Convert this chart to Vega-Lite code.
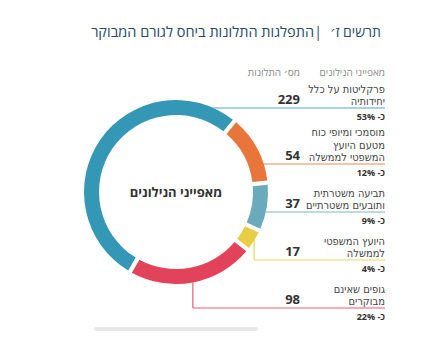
{
  "$schema": "https://vega.github.io/schema/vega-lite/v6.json",
  "width": 446,
  "height": 351,
  "autosize": {"type": "fit", "contains": "padding"},
  "padding": 0,
  "background": "white",
  "view": {"stroke": null},
  "config": {"font": "Open Sans, DejaVu Sans, sans-serif"},
  "data": {
    "values": [
      {"category": "פרקליטות על כלל יחידותיה", "lines": ["פרקליטות על כלל", "יחידותיה"], "count": 229, "pct": "כ- 53%", "rank": 0},
      {"category": "מוסמכי ומיופי כוח מטעם היועץ המשפטי לממשלה", "lines": ["מוסמכי ומיופי כוח", "מטעם היועץ", "המשפטי לממשלה"], "count": 54, "pct": "כ- 12%", "rank": 1},
      {"category": "תביעה משטרתית ותובעים משטרתיים", "lines": ["תביעה משטרתית", "ותובעים משטרתיים"], "count": 37, "pct": "כ- 9%", "rank": 2},
      {"category": "היועץ המשפטי לממשלה", "lines": ["היועץ המשפטי", "לממשלה"], "count": 17, "pct": "כ- 4%", "rank": 3},
      {"category": "גופים שאינם מבוקרים", "lines": ["גופים שאינם", "מבוקרים"], "count": 98, "pct": "כ- 22%", "rank": 4}
    ]
  },
  "transform": [
    {"joinaggregate": [{"op": "sum", "field": "count", "as": "total"}]},
    {"calculate": "length(datum.lines)", "as": "nlines"},
    {"window": [{"op": "sum", "field": "count", "as": "cum"}, {"op": "sum", "field": "nlines", "as": "cumLines"}], "sort": [{"field": "rank"}]},
    {"calculate": "3.665 + 2 * PI * (datum.cum - datum.count / 2) / datum.total", "as": "mid"},
    {"calculate": "176 + 92 * sin(datum.mid)", "as": "vx"},
    {"calculate": "datum.rank >= 3 ? datum.vx : 176", "as": "hx"},
    {"calculate": "92 + 32 * datum.rank + 8 * datum.cumLines", "as": "rowY"},
    {"calculate": "datum.rowY - 1", "as": "textY"},
    {"calculate": "datum.rowY - 1 - (datum.nlines - 1) * 12.5", "as": "firstY"},
    {"calculate": "datum.rowY + 5", "as": "pctY"},
    {"calculate": "385", "as": "lineEnd"},
    {"calculate": "192", "as": "cy"}
  ],
  "layer": [
    {
      "data": {"values": [{"a": 96, "b": 256, "y": 329}]},
      "mark": {"type": "rule", "stroke": "#e0e0e0", "strokeWidth": 4, "strokeCap": "round", "opacity": 0.75},
      "encoding": {
        "x": {"field": "a", "type": "quantitative", "scale": {"domain": [0, 446], "nice": false, "zero": false}, "axis": null},
        "x2": {"field": "b"},
        "y": {"field": "y", "type": "quantitative", "scale": {"domain": [0, 351], "nice": false, "zero": false, "reverse": true}, "axis": null}
      }
    },
    {
      "mark": {"type": "rule", "strokeWidth": 1.2, "opacity": 0.85},
      "encoding": {
        "x": {"field": "hx", "type": "quantitative", "scale": {"domain": [0, 446], "nice": false, "zero": false}, "axis": null},
        "x2": {"field": "lineEnd"},
        "y": {"field": "rowY", "type": "quantitative", "scale": {"domain": [0, 351], "nice": false, "zero": false, "reverse": true}, "axis": null},
        "color": {"field": "category", "type": "nominal", "legend": null,
          "scale": {"domain": ["פרקליטות על כלל יחידותיה", "מוסמכי ומיופי כוח מטעם היועץ המשפטי לממשלה", "תביעה משטרתית ותובעים משטרתיים", "היועץ המשפטי לממשלה", "גופים שאינם מבוקרים"],
                    "range": ["#3597b6", "#e8763a", "#6aaabb", "#e9ce45", "#e2425a"]}}
      }
    },
    {
      "transform": [{"filter": "datum.rank >= 3"}],
      "mark": {"type": "rule", "strokeWidth": 1.2, "opacity": 0.85},
      "encoding": {
        "x": {"field": "vx", "type": "quantitative", "scale": {"domain": [0, 446], "nice": false, "zero": false}, "axis": null},
        "y": {"field": "cy", "type": "quantitative", "scale": {"domain": [0, 351], "nice": false, "zero": false, "reverse": true}, "axis": null},
        "y2": {"field": "rowY"},
        "color": {"field": "category", "type": "nominal", "legend": null}
      }
    },
    {
      "data": {"values": [{"cx": 176, "cy": 192}]},
      "mark": {"type": "arc", "innerRadius": 0, "outerRadius": 92, "theta": 0, "theta2": 6.2832, "fill": "white"},
      "encoding": {
        "x": {"field": "cx", "type": "quantitative", "scale": {"domain": [0, 446], "nice": false, "zero": false}, "axis": null},
        "y": {"field": "cy", "type": "quantitative", "scale": {"domain": [0, 351], "nice": false, "zero": false, "reverse": true}, "axis": null}
      }
    },
    {
      "mark": {"type": "arc", "innerRadius": 77, "outerRadius": 92, "padAngle": 0.035},
      "encoding": {
        "x": {"datum": 176, "type": "quantitative", "scale": {"domain": [0, 446], "nice": false, "zero": false}, "axis": null},
        "y": {"datum": 192, "type": "quantitative", "scale": {"domain": [0, 351], "nice": false, "zero": false, "reverse": true}, "axis": null},
        "theta": {"field": "count", "type": "quantitative", "stack": true, "scale": {"range": [3.665, 9.948]}},
        "order": {"field": "rank", "type": "quantitative"},
        "color": {"field": "category", "type": "nominal", "legend": null}
      }
    },
    {
      "data": {"values": [
        {"t": "מאפייני הנילונים", "x": 176, "y": 193}
      ]},
      "mark": {"type": "text", "align": "center", "baseline": "middle", "fontSize": 13, "fontWeight": "bold", "fill": "#333333"},
      "encoding": {
        "x": {"field": "x", "type": "quantitative", "scale": {"domain": [0, 446], "nice": false, "zero": false}, "axis": null},
        "y": {"field": "y", "type": "quantitative", "scale": {"domain": [0, 351], "nice": false, "zero": false, "reverse": true}, "axis": null},
        "text": {"field": "t"}
      }
    },
    {
      "data": {"values": [
        {"t": "מאפייני הנילונים", "x": 385, "y": 73},
        {"t": "מס׳ התלונות", "x": 300, "y": 73}
      ]},
      "mark": {"type": "text", "align": "right", "baseline": "middle", "fontSize": 10, "fill": "#8a8a8a"},
      "encoding": {
        "x": {"field": "x", "type": "quantitative", "scale": {"domain": [0, 446], "nice": false, "zero": false}, "axis": null},
        "y": {"field": "y", "type": "quantitative", "scale": {"domain": [0, 351], "nice": false, "zero": false, "reverse": true}, "axis": null},
        "text": {"field": "t"}
      }
    },
    {
      "data": {"values": [
        {"t": "תרשים ז׳", "x": 381, "y": 33, "w": "normal", "s": 14},
        {"t": "|", "x": 322, "y": 33, "w": "normal", "s": 14},
        {"t": "התפלגות התלונות ביחס לגורם המבוקר", "x": 314, "y": 33, "w": "bold", "s": 14.5}
      ]},
      "mark": {"type": "text", "align": "right", "baseline": "middle", "fill": "#2b4a6b"},
      "encoding": {
        "x": {"field": "x", "type": "quantitative", "scale": {"domain": [0, 446], "nice": false, "zero": false}, "axis": null},
        "y": {"field": "y", "type": "quantitative", "scale": {"domain": [0, 351], "nice": false, "zero": false, "reverse": true}, "axis": null},
        "text": {"field": "t"},
        "fontWeight": {"field": "w", "type": "nominal", "scale": null},
        "size": {"field": "s", "type": "quantitative", "scale": null}
      }
    },
    {
      "mark": {"type": "text", "align": "right", "baseline": "bottom", "font": "DejaVu Sans Condensed", "fontSize": 11, "lineHeight": 12.5, "fill": "#444444"},
      "encoding": {
        "x": {"datum": 385, "type": "quantitative", "scale": {"domain": [0, 446], "nice": false, "zero": false}, "axis": null},
        "y": {"field": "firstY", "type": "quantitative", "scale": {"domain": [0, 351], "nice": false, "zero": false, "reverse": true}, "axis": null},
        "text": {"field": "lines"}
      }
    },
    {
      "mark": {"type": "text", "align": "right", "baseline": "bottom", "fontSize": 13, "fontWeight": "bold", "fill": "#333333"},
      "encoding": {
        "x": {"datum": 300, "type": "quantitative", "scale": {"domain": [0, 446], "nice": false, "zero": false}, "axis": null},
        "y": {"field": "textY", "type": "quantitative", "scale": {"domain": [0, 351], "nice": false, "zero": false, "reverse": true}, "axis": null},
        "text": {"field": "count", "type": "quantitative"}
      }
    },
    {
      "mark": {"type": "text", "align": "right", "baseline": "top", "fontSize": 9, "fontWeight": "bold", "fill": "#333333"},
      "encoding": {
        "x": {"datum": 385, "type": "quantitative", "scale": {"domain": [0, 446], "nice": false, "zero": false}, "axis": null},
        "y": {"field": "pctY", "type": "quantitative", "scale": {"domain": [0, 351], "nice": false, "zero": false, "reverse": true}, "axis": null},
        "text": {"field": "pct"}
      }
    }
  ]
}
